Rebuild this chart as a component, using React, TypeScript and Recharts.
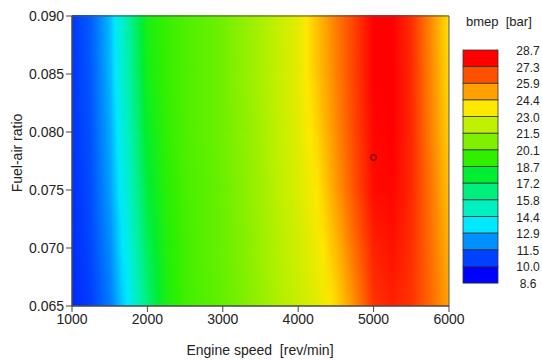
import React from 'react';
import { ComposedChart, XAxis, YAxis, ReferenceArea, Scatter } from 'recharts';

// grid nodes
const engineSpeeds = [1000, 1250, 1500, 1750, 2000, 2250, 2500, 2750, 3000, 3250, 3500, 3750, 4000, 4250, 4500, 4750, 5000, 5250, 5500, 5750, 6000];
const fuelAirRatios = [0.065, 0.07, 0.075, 0.08, 0.085, 0.09];

// bmep [bar] per fuel-air ratio row (same order as fuelAirRatios)
const bmep065 = [10.2, 10.7, 11.8, 13.8, 16.6, 18.8, 19.7, 20.0, 20.3, 20.7, 21.3, 21.9, 22.4, 23.0, 24.0, 25.5, 27.1, 27.4, 27.1, 26.2, 25.1];
const bmep070 = [10.3, 10.9, 12.1, 14.3, 17.2, 19.0, 19.7, 20.1, 20.4, 20.8, 21.4, 22.0, 22.6, 23.3, 24.6, 26.1, 27.4, 27.7, 27.2, 26.1, 24.8];
const bmep075 = [10.4, 11.0, 12.4, 14.8, 17.8, 19.2, 19.8, 20.1, 20.4, 20.9, 21.5, 22.2, 22.8, 23.7, 25.2, 26.6, 27.8, 27.9, 27.3, 26.0, 24.5];
const bmep080 = [10.5, 11.1, 12.6, 15.2, 18.2, 19.4, 19.9, 20.2, 20.5, 21.0, 21.6, 22.3, 23.0, 24.1, 25.5, 26.8, 27.9, 28.0, 27.3, 25.8, 24.2];
const bmep085 = [10.5, 11.2, 12.8, 15.6, 18.6, 19.5, 19.9, 20.2, 20.5, 21.1, 21.7, 22.4, 23.1, 24.4, 25.7, 26.9, 28.0, 28.0, 27.3, 25.7, 24.0];
const bmep090 = [10.6, 11.3, 12.9, 15.8, 18.8, 19.5, 19.9, 20.2, 20.5, 21.1, 21.7, 22.4, 23.1, 24.5, 25.8, 26.9, 28.0, 28.0, 27.2, 25.6, 23.8];
const bmepRows = [bmep065, bmep070, bmep075, bmep080, bmep085, bmep090];

// contour levels (top -> bottom of the colour bar) and the box colours between them
const levelLabels = ['28.7', '27.3', '25.9', '24.4', '23.0', '21.5', '20.1', '18.7', '17.2', '15.8', '14.4', '12.9', '11.5', '10.0', '8.6'];
const levelColors = ['#ff0000', '#ff5000', '#ffa000', '#ffe800', '#c0f000', '#80f000', '#30f000', '#00ee30', '#00f080', '#00f0c0', '#00e8ff', '#0090ff', '#0040ff', '#0000ff'];

const speedTicks = [1000, 2000, 3000, 4000, 5000, 6000];
const ratioTicks = [0.065, 0.07, 0.075, 0.08, 0.085, 0.09];
const operatingPoint = [{ x: 5000, y: 0.0778 }];

const FONT = "'Liberation Sans', Arial, sans-serif";

// colour anchors at the middle of each level band
const anchors = levelColors.map((c, i) => ({
  v: (parseFloat(levelLabels[i]) + parseFloat(levelLabels[i + 1])) / 2,
  c,
})).reverse();

const hex = (c: string) => [1, 3, 5].map((i) => parseInt(c.slice(i, i + 2), 16));
const mix = (a: string, b: string, t: number) => {
  const A = hex(a);
  const B = hex(b);
  return 'rgb(' + A.map((v, i) => Math.round(v + (B[i] - v) * t)).join(',') + ')';
};

function colorOf(v: number) {
  if (v <= anchors[0].v) return anchors[0].c;
  for (let i = 1; i < anchors.length; i++) {
    if (v <= anchors[i].v) {
      const a = anchors[i - 1];
      const b = anchors[i];
      return mix(a.c, b.c, (v - a.v) / (b.v - a.v));
    }
  }
  return anchors[anchors.length - 1].c;
}

// gradient stops along a row; extra stops where the colour map has a corner
function rowStops(row: number[]) {
  const span = engineSpeeds[engineSpeeds.length - 1] - engineSpeeds[0];
  const stops: { o: number; c: string }[] = [];
  row.forEach((v, i) => {
    const o = (engineSpeeds[i] - engineSpeeds[0]) / span;
    stops.push({ o, c: colorOf(v) });
    if (i < row.length - 1) {
      const v1 = row[i + 1];
      const o1 = (engineSpeeds[i + 1] - engineSpeeds[0]) / span;
      const inside = anchors.filter((a) => a.v > Math.min(v, v1) && a.v < Math.max(v, v1));
      if (v1 < v) inside.reverse();
      inside.forEach((a) => {
        const t = (a.v - v) / (v1 - v);
        stops.push({ o: o + (o1 - o) * t, c: a.c });
      });
    }
  });
  return stops;
}

const bandShape = (k: number) => (p: any) => (
  <g>
    <rect x={p.x} y={p.y - 1} width={p.width} height={p.height + 1} fill={`url(#row-${k})`} />
    <rect x={p.x} y={p.y - 1} width={p.width} height={p.height + 1} fill={`url(#row-${k + 1})`} mask="url(#fade-up)" />
  </g>
);

const PointMark = (p: any) => (
  <circle cx={p.cx} cy={p.cy} r={2.8} fill="none" stroke="#7a1010" strokeWidth={1.2} />
);

export default function App() {
  return (
    <div style={{ position: 'relative', width: 542, height: 360, background: '#fff', fontFamily: FONT }}>
      <style>{'body{margin:0}'}</style>
      <ComposedChart width={542} height={360} margin={{ top: 16, right: 93, bottom: 0, left: 0 }}>
        <defs>
          {bmepRows.map((row, k) => (
            <linearGradient key={k} id={`row-${k}`} x1="0" y1="0" x2="1" y2="0">
              {rowStops(row).map((s, j) => (
                <stop key={j} offset={s.o} stopColor={s.c} />
              ))}
            </linearGradient>
          ))}
          <linearGradient id="fade-grad" x1="0" y1="0" x2="0" y2="1">
            <stop offset={0} stopColor="#fff" />
            <stop offset={1} stopColor="#000" />
          </linearGradient>
          <mask id="fade-up" maskContentUnits="objectBoundingBox">
            <rect x={0} y={0} width={1} height={1} fill="url(#fade-grad)" />
          </mask>
        </defs>
        <XAxis
          type="number"
          dataKey="x"
          domain={[1000, 6000]}
          ticks={speedTicks}
          height={54}
          tickSize={6}
          tick={{ fill: '#222', fontSize: 14, fontFamily: FONT }}
          stroke="#444"
          label={{
            content: () => (
              <text x={260} y={355} textAnchor="middle" fontSize={14} fill="#222" fontFamily={FONT} style={{ whiteSpace: 'pre' }}>
                Engine speed  [rev/min]
              </text>
            ),
          }}
        />
        <YAxis
          type="number"
          dataKey="y"
          domain={[0.065, 0.09]}
          ticks={ratioTicks}
          width={72}
          tickSize={6}
          allowDataOverflow
          tickFormatter={(v: number) => v.toFixed(3)}
          tick={{ fill: '#222', fontSize: 14, fontFamily: FONT }}
          stroke="#444"
          label={{
            content: () => (
              <text x={22} y={153} textAnchor="middle" fontSize={14} fill="#222" fontFamily={FONT} transform="rotate(-90 22 153)">
                Fuel-air ratio
              </text>
            ),
          }}
        />
        {fuelAirRatios.slice(0, -1).map((r, k) => (
          <ReferenceArea
            key={k}
            x1={engineSpeeds[0]}
            x2={engineSpeeds[engineSpeeds.length - 1]}
            y1={r}
            y2={fuelAirRatios[k + 1]}
            shape={bandShape(k)}
          />
        ))}
        <ReferenceArea x1={1000} x2={6000} y1={0.065} y2={0.09} fill="none" fillOpacity={0} stroke="#555" strokeOpacity={1} />
        <Scatter data={operatingPoint} shape={PointMark} isAnimationActive={false} />
      </ComposedChart>

      {/* colour bar */}
      <svg width={542} height={360} style={{ position: 'absolute', left: 0, top: 0, pointerEvents: 'none' }}>
        <text x={466} y={26} fontSize={13} fill="#222" fontFamily={FONT} style={{ whiteSpace: 'pre' }}>
          bmep  [bar]
        </text>
        {levelColors.map((c, i) => (
          <rect key={i} x={463} y={50 + i * 16.65} width={35} height={16.65} fill={c} stroke="#333" strokeWidth={0.8} />
        ))}
        {levelLabels.map((l, i) => (
          <text key={l} x={528} y={50 + i * 16.65 + 5} textAnchor="middle" fontSize={12} fill="#222" fontFamily={FONT}>
            {l}
          </text>
        ))}
      </svg>
    </div>
  );
}
